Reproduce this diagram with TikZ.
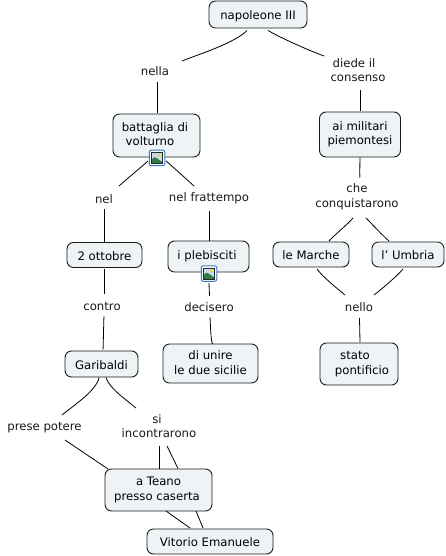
\documentclass[tikz,border=0pt]{standalone}
\usepackage{fontspec}
\setmainfont{DejaVu Sans}
\usetikzlibrary{calc}
\definecolor{boxfill}{HTML}{EEF3F6}
\definecolor{boxline}{HTML}{1A1A1A}
\definecolor{iconblue}{HTML}{3A78C8}
\definecolor{iconsky}{HTML}{C9DDF2}
\definecolor{iconhill}{HTML}{2E7D4A}
\definecolor{iconsun}{HTML}{E8D44A}
\tikzset{
  struts/.style={execute at begin node={\rule{0pt}{12pt}},execute at end node={\rule[-1.6pt]{0pt}{1.6pt}}},
  concept/.style={draw=boxline,line width=0.9pt,fill=boxfill,rounded corners=6.5pt,align=center,inner sep=0pt,struts,font=\fontsize{11.7}{14.5}\selectfont},
  phrase/.style={align=center,inner sep=0pt,struts,font=\fontsize{11.7}{14.5}\selectfont,text=black!90},
  link/.style={draw=black,line width=0.8pt,looseness=0.65},
  iconbox/.style={draw=iconblue,line width=1pt,fill=white,rounded corners=2pt,minimum width=15.5pt,minimum height=15.5pt,inner sep=0pt}
}
\newcommand{\iconart}[1]{%
  \begin{scope}[shift={(#1)}]
    \fill[iconsky] (-5.5,-5.5) rectangle (5.5,5.5);
    \fill[iconsun] (2.5,-2.5) circle (1.8);
    \fill[iconhill] (-5.5,5.5) -- (-5.5,2) .. controls (-3,-2) and (-1,-1) .. (1,1) .. controls (3,2.5) and (4.5,3.5) .. (5.5,4) -- (5.5,5.5) -- cycle;
    \draw[black!85,line width=0.7pt] (-5.5,-5.5) rectangle (5.5,5.5);
  \end{scope}}
\begin{document}
\begin{tikzpicture}[x=1pt,y=-1pt]
\useasboundingbox (0,0) rectangle (445,556);
% concepts
\node[concept,minimum width=98pt,minimum height=27pt] (nap) at (258,14.5) {napoleone III};
\node[concept,minimum width=87pt,minimum height=43pt] (bat) at (156.5,135.5) {\raisebox{1pt}{battaglia di\hspace*{3pt}}\\\raisebox{1pt}{volturno\hspace*{13pt}}};
\node[concept,minimum width=81pt,minimum height=45pt] (mil) at (360,134.5) {ai militari\\piemontesi};
\node[concept,minimum width=75pt,minimum height=25pt] (ott) at (104.5,255) {2 ottobre};
\node[concept,minimum width=81pt,minimum height=31pt] (ple) at (208.5,256.5) {\raisebox{2.5pt}{i plebisciti\hspace*{3pt}}};
\node[concept,minimum width=76pt,minimum height=25pt] (mar) at (311,254.5) {le Marche};
\node[concept,minimum width=72pt,minimum height=25pt] (umb) at (408,254.5) {l' Umbria};
\node[concept,minimum width=73pt,minimum height=26pt] (gar) at (101.5,364) {Garibaldi};
\node[concept,minimum width=95pt,minimum height=39pt] (uni) at (210.5,363.5) {di unire\\le due sicilie};
\node[concept,minimum width=78pt,minimum height=42pt] (sta) at (359,364) {stato\hspace*{8pt}\\\hspace*{6pt}pontificio};
\node[concept,minimum width=107pt,minimum height=42pt] (tea) at (158.5,490) {\raisebox{1pt}{a Teano}\\\raisebox{1pt}{presso caserta\hspace*{3pt}}};
\node[concept,minimum width=126pt,minimum height=25pt] (vit) at (210,541.5) {Vitorio Emanuele};
% linking phrases
\node[phrase] (nella) at (155,70.5) {nella};
\node[phrase] (diede) at (358,71) {diede il\hspace*{8pt}\\consenso};
\node[phrase] (nel) at (104,198) {nel};
\node[phrase] (fra) at (209,197) {nel frattempo};
\node[phrase] (che) at (357,197) {che\\conquistarono};
\node[phrase] (con) at (102,305.5) {contro};
\node[phrase] (dec) at (209,306) {decisero};
\node[phrase] (nello) at (359,306) {nello};
\node[phrase] (pre) at (44.5,426) {prese potere};
\node[phrase] (inc) at (159,427) {si\hspace*{4pt}\\incontrarono};
% connectors
\draw[link] ($(nap)+(-11,16)$) to[out=225,in=22] ($(nella)+(27,-9.5)$);
\draw[link] ($(nap)+(10,16)$) to[out=-30,in=160] ($(diede)+(-34,-15)$);
\draw[link] ($(nella)+(2,12)$) -- ($(bat)+(0.5,-22)$);
\draw[link] ($(diede)+(2.5,19)$) -- ($(mil)+(0.5,-23)$);
\draw[link] ($(bat)+(-8.5,25.5)$) to[out=222,in=42] ($(nel)+(15,-12)$);
\draw[link] ($(bat)+(9.5,25.5)$) to[out=-40,in=138] ($(fra)+(-15,-11)$);
\draw[link] ($(nel)+(0,11)$) -- ($(ott)+(-0.5,-13)$);
\draw[link] ($(fra)+(0,14)$) -- ($(ple)+(0.5,-16)$);
\draw[link] ($(ott)+(-0.5,14)$) -- ($(con)+(2,-11.5)$);
\draw[link] ($(con)+(2,11.5)$) to[out=90,in=-90] ($(gar)+(1.5,-15)$);
\draw[link] ($(ple)+(0.5,26.5)$) -- ($(dec)+(0.5,-10)$);
\draw[link] ($(dec)+(1,12)$) to[out=90,in=-110] ($(uni)+(2.5,-20.5)$);
\draw[link] ($(mil)+(0,23.5)$) to[out=90,in=-95] ($(che)+(3,-21)$);
\draw[link] ($(che)+(-4,21)$) to[out=230,in=48] ($(mar)+(18,-13.5)$);
\draw[link] ($(che)+(9,21)$) to[out=-45,in=140] ($(umb)+(-19,-13.5)$);
\draw[link] ($(mar)+(6,14.5)$) to[out=-55,in=140] ($(nello)+(-14,-11)$);
\draw[link] ($(umb)+(-5,14.5)$) to[out=230,in=38] ($(nello)+(15,-11)$);
\draw[link] ($(nello)+(0.5,12)$) -- ($(sta)+(1,-22)$);
\draw[link] ($(gar)+(-2.5,13.5)$) to[out=260,in=40] ($(pre)+(17.5,-11)$);
\draw[link] ($(gar)+(4.5,13.5)$) to[out=-75,in=140] ($(inc)+(-23,-19)$);
\draw[link] ($(pre)+(20.5,14)$) -- ($(tea)+(-50.5,-21)$);
\draw[link] ($(inc)+(0,19)$) -- ($(tea)+(0.5,-21.5)$);
\draw[link] ($(inc)+(8,19)$) -- ($(tea)+(19.5,-21.5)$);
\draw[link] ($(tea)+(7.5,21)$) -- ($(vit)+(-20,-13.5)$);
\draw[link] ($(tea)+(37.5,21)$) -- ($(vit)+(-7,-13.5)$);
% image icons
\node[iconbox] (ic1) at (157,158) {};
\iconart{ic1}
\node[iconbox] (ic2) at (209,273.5) {};
\iconart{ic2}
\end{tikzpicture}
\end{document}
